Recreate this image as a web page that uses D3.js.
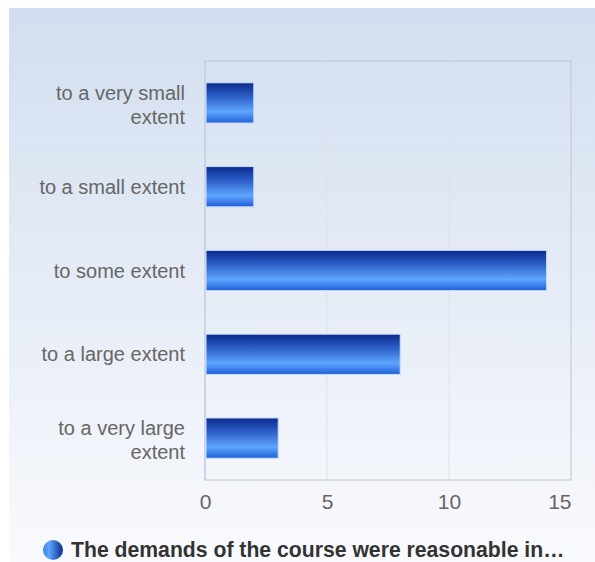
<!DOCTYPE html>
<html>
<head>
<meta charset="utf-8">
<script src="https://cdn.jsdelivr.net/npm/d3@7"></script>
<style>
  body { margin: 0; background: #fff; }
  svg { display: block; font-family: "Liberation Sans", Arial, sans-serif; }
</style>
</head>
<body>
<svg id="chart" width="595" height="562"></svg>
<script>
// chart data
const categories = ['to a very small extent', 'to a small extent', 'to some extent', 'to a large extent', 'to a very large extent'];
const labelLines = [['to a very small', 'extent'], ['to a small extent'], ['to some extent'], ['to a large extent'], ['to a very large', 'extent']];
const values = [2, 2, 14, 8, 3];
const xTicks = [0, 5, 10, 15];
const legendLabel = 'The demands of the course were reasonable in\u2026';

const width = 595, height = 562;
const margin = { left: 205, right: 24, top: 61, bottom: 82 };
const fontFam = '"Liberation Sans", Arial, sans-serif';

const svg = d3.select('#chart');
const defs = svg.append('defs');

// panel background
const bg = defs.append('linearGradient').attr('id', 'bg').attr('x1', 0).attr('y1', 0).attr('x2', 0).attr('y2', 1);
bg.append('stop').attr('offset', '0%').attr('stop-color', '#d2deef');
bg.append('stop').attr('offset', '100%').attr('stop-color', '#f9fafd');

const barGrad = defs.append('linearGradient').attr('id', 'bar').attr('x1', 0).attr('y1', 0).attr('x2', 0).attr('y2', 1);
barGrad.append('stop').attr('offset', '0%').attr('stop-color', '#0a2a8c');
barGrad.append('stop').attr('offset', '35%').attr('stop-color', '#2d5fc8');
barGrad.append('stop').attr('offset', '72%').attr('stop-color', '#5ea6ff');
barGrad.append('stop').attr('offset', '100%').attr('stop-color', '#1f5fd6');

const dot = defs.append('linearGradient').attr('id', 'dot').attr('x1', 0).attr('y1', 0).attr('x2', 1).attr('y2', 0);
dot.append('stop').attr('offset', '0%').attr('stop-color', '#3a7ee8');
dot.append('stop').attr('offset', '30%').attr('stop-color', '#5ea6ff');
dot.append('stop').attr('offset', '100%').attr('stop-color', '#0a2a8c');

svg.append('rect')
  .attr('x', 9).attr('y', 8)
  .attr('width', width - 9).attr('height', height - 8)
  .attr('fill', 'url(#bg)');

const x = d3.scaleLinear().domain([0, 15]).range([margin.left, width - margin.right]);
const y = d3.scaleBand().domain(categories)
  .range([margin.top, height - margin.bottom])
  .paddingInner(0.52).paddingOuter(0.26);

// grid
svg.append('g')
  .selectAll('line')
  .data(xTicks.slice(1, -1))
  .join('line')
  .attr('x1', d => x(d)).attr('x2', d => x(d))
  .attr('y1', margin.top).attr('y2', height - margin.bottom)
  .attr('stroke', '#dde3ec').attr('stroke-width', 1);

// plot frame
svg.append('rect')
  .attr('x', margin.left).attr('y', margin.top)
  .attr('width', x(15) - margin.left)
  .attr('height', height - margin.bottom - margin.top)
  .attr('fill', 'none').attr('stroke', '#c9ccd2').attr('stroke-width', 1.2);
svg.append('line')
  .attr('x1', margin.left).attr('x2', margin.left)
  .attr('y1', margin.top).attr('y2', height - margin.bottom)
  .attr('stroke', '#c5d2e6').attr('stroke-width', 1.5);

// bars
svg.append('g')
  .selectAll('rect')
  .data(values)
  .join('rect')
  .attr('x', x(0) + 1)
  .attr('y', (d, i) => y(categories[i]))
  .attr('width', d => x(d) - x(0) - 1)
  .attr('height', y.bandwidth())
  .attr('fill', 'url(#bar)')
  .attr('stroke', '#c9dcf8').attr('stroke-width', 1);

// x axis
const xAxis = svg.append('g')
  .attr('transform', `translate(0,${height - margin.bottom})`)
  .call(d3.axisBottom(x).tickValues(xTicks).tickSize(0).tickPadding(14));
xAxis.select('.domain').remove();
xAxis.selectAll('text')
  .attr('font-size', 21).attr('fill', '#666')
  .attr('font-family', fontFam)
  .attr('text-anchor', d => d === xTicks[xTicks.length - 1] ? 'end' : 'middle');

// category labels
const lab = svg.append('g')
  .selectAll('text')
  .data(categories)
  .join('text')
  .attr('x', 185)
  .attr('y', d => y(d) + y.bandwidth() / 2)
  .attr('text-anchor', 'end')
  .attr('font-size', 20).attr('fill', '#666');
lab.each(function (d, i) {
  const lines = labelLines[i];
  const lh = 24.5;
  d3.select(this).selectAll('tspan')
    .data(lines)
    .join('tspan')
    .attr('x', 185)
    .attr('dy', (t, j) => j === 0 ? (lines.length > 1 ? -lh / 2 + 9 : 7) : lh)
    .text(t => t);
});

// legend
svg.append('circle').attr('cx', 53).attr('cy', 550).attr('r', 10).attr('fill', 'url(#dot)');
svg.append('text')
  .attr('x', 71).attr('y', 557)
  .attr('font-size', 21.2).attr('font-weight', 'bold').attr('fill', '#333')
  .text(legendLabel);
</script>
</body>
</html>
